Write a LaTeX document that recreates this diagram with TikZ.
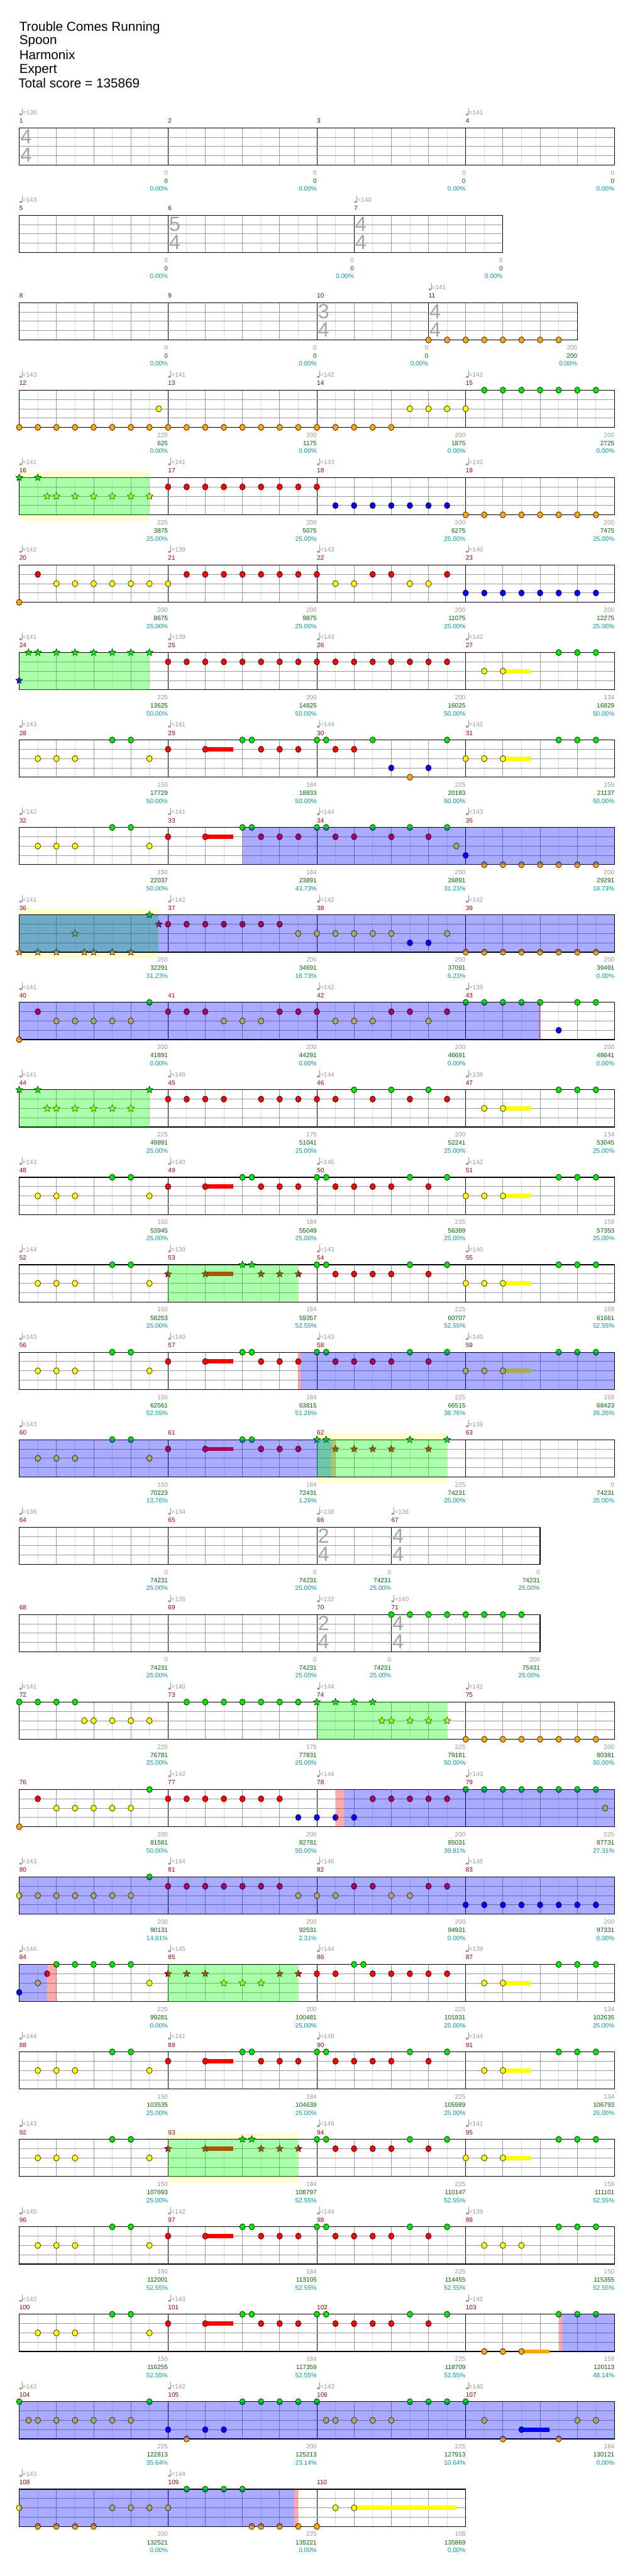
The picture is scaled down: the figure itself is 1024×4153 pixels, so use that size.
\documentclass[tikz,border=0pt]{standalone}
\usepackage{fontspec}
\setmainfont{Liberation Sans}
\usetikzlibrary{shapes.geometric}

\definecolor{gemgreen}{RGB}{0,230,0}
\definecolor{gemred}{RGB}{255,0,0}
\definecolor{gemyellow}{RGB}{255,255,0}
\definecolor{gemblue}{RGB}{0,0,255}
\definecolor{gemorange}{RGB}{255,165,0}
\definecolor{lanegray}{RGB}{153,153,153}
\definecolor{eighthgray}{RGB}{221,221,221}
\definecolor{sigrgray}{RGB}{165,165,165}
\definecolor{numred}{RGB}{153,0,0}
\definecolor{totalgreen}{RGB}{0,100,0}
\definecolor{pctteal}{RGB}{0,153,153}
\definecolor{bandyellow}{RGB}{255,255,208}

\newcounter{gemno}

\tikzstyle{gem} = [
    ellipse,
    minimum width=9pt,
    minimum height=10pt,
    inner sep=0pt,
    draw=black,
    line width=0.6pt
]
\tikzstyle{odstar} = [
    star,
    star points=5,
    star point ratio=2.2,
    minimum size=12pt,
    inner sep=0pt,
    draw=black,
    line width=0.5pt
]
\tikzstyle{ngreen} = [gem, fill=gemgreen]
\tikzstyle{nred} = [gem, fill=gemred]
\tikzstyle{nyellow} = [gem, fill=gemyellow]
\tikzstyle{nblue} = [gem, fill=gemblue]
\tikzstyle{norange} = [gem, fill=gemorange]
\tikzstyle{sgreen} = [odstar, fill=gemgreen]
\tikzstyle{sred} = [odstar, fill=gemred]
\tikzstyle{syellow} = [odstar, fill=gemyellow]
\tikzstyle{sblue} = [odstar, fill=gemblue]
\tikzstyle{sorange} = [odstar, fill=gemorange]

\tikzstyle{eighthline} = [draw=eighthgray, line width=0.8pt]
\tikzstyle{beatline} = [draw=lanegray, line width=0.8pt]
\tikzstyle{barline} = [draw=black, line width=0.8pt]
\tikzstyle{laneline} = [draw=lanegray, line width=0.9pt]
\tikzstyle{staffborder} = [draw=black, line width=1.2pt]
\tikzstyle{bluezone} = [fill=blue, fill opacity=0.333]
\tikzstyle{greenzone} = [fill={rgb,255:red,0;green,255;blue,0}, fill opacity=0.333]
\tikzstyle{pinkzone} = [fill=red, fill opacity=0.333]

\tikzstyle{small} = [inner sep=0pt, font=\fontsize{10.2}{12}\selectfont]
\tikzstyle{titletxt} = [inner sep=0pt, anchor=base west, font=\fontsize{21}{24}\selectfont]
\tikzstyle{mnum} = [small, anchor=base west, text=numred]
\tikzstyle{tempotxt} = [small, anchor=base west, text=lanegray]
\tikzstyle{scoretxt} = [small, anchor=base east, text=lanegray]
\tikzstyle{totaltxt} = [small, anchor=base east, text=totalgreen]
\tikzstyle{pcttxt} = [small, anchor=base east, text=pctteal]
\tikzstyle{sigtxt} = [inner sep=0pt, anchor=west, text=sigrgray, font=\fontsize{33}{36}\selectfont]

% tempo mark: x, bpm, measure
\newcommand{\tempomark}[3]{%
  \fill[lanegray] (#1+2.3,-21.5) ellipse (2.3 and 1.7);
  \draw[lanegray, line width=0.6pt] (#1+4.4,-21.5) -- (#1+4.4,-32);
  \node[tempotxt] (tempo#3) at (#1+5,-21) {=#2};
}
% measure: start (eighths), beats, number, tempo, score, total, percent
\newcommand{\drawmeasure}[7]{%
  \pgfmathsetmacro\mxa{#1*30}%
  \pgfmathsetmacro\mxb{#1*30+#2*60}%
  \pgfmathtruncatemacro\neig{2*#2-1}%
  \pgfmathtruncatemacro\nbeat{#2-1}%
  \foreach \k in {1,3,...,\neig} {\draw[eighthline] (\mxa+\k*30,0) -- (\mxa+\k*30,60);}
  \foreach \k in {1,...,\nbeat} {\draw[beatline] (\mxa+\k*60,0) -- (\mxa+\k*60,60);}
  \draw[barline] (\mxa,0) -- (\mxa,60);
  \node[mnum] (m#3) at (\mxa,-7.7) {#3};
  \if\relax\detokenize{#4}\relax\else\tempomark{\mxa}{#4}{#3}\fi
  \node[scoretxt] (s#3) at (\mxb,76) {#5};
  \node[totaltxt] (c#3) at (\mxb,89.3) {#6};
  \node[pcttxt] (p#3) at (\mxb,102) {#7};
}
\newcommand{\staffbg}[1]{\fill[white] (0,0) rectangle (#1*30,60);}
\newcommand{\lanes}[1]{%
  \foreach \l in {15,30,45} {\draw[laneline] (0,\l) -- (#1*30,\l);}
  \draw[staffborder] (0,0) rectangle (#1*30,60);
}
% time signature: start (eighths), top, bottom, measure
\newcommand{\tsig}[4]{%
  \node[sigtxt] (sigtop#4) at (#1*30+1.5,14.5) {#2};
  \node[sigtxt] (sigbot#4) at (#1*30+1.5,44) {#3};
}
% gems: style, lane, positions (eighths)
\newcommand{\gems}[3]{%
  \foreach \e in {#3} {\stepcounter{gemno}\node[#1] (g\arabic{gemno}) at (\e*30,#2*15) {};}
}
\newcommand{\sus}[4]{\fill[#1] (#3*30,#2*15-3.5) rectangle (#4*30,#2*15+3.5);}
\newcommand{\band}[2]{\fill[bandyellow] (#1*30,-10) rectangle (#2*30,70);}
\newcommand{\zone}[3]{\fill[#1] (#2*30,0) rectangle (#3*30,60);}

\begin{document}
\begin{tikzpicture}[x=1pt, y=-1pt]

\useasboundingbox (0,0) rectangle (1024,4153);
\fill[white] (0,0) rectangle (1024,4153);

\node[titletxt] (song) at (31,50) {Trouble Comes Running};
\node[titletxt] (artist) at (31,71.7) {Spoon};
\node[titletxt] (author) at (31,95.7) {Harmonix};
\node[titletxt] (level) at (31,118.3) {Expert};
\node[titletxt] (total) at (29.5,141.7) {Total score = 135869};

% measures 1-4
\begin{scope}[shift={(31,206)}]
\staffbg{32}
\drawmeasure{0}{4}{1}{138}{0}{0}{0.00\%}
\drawmeasure{8}{4}{2}{}{0}{0}{0.00\%}
\drawmeasure{16}{4}{3}{}{0}{0}{0.00\%}
\drawmeasure{24}{4}{4}{141}{0}{0}{0.00\%}
\lanes{32}
\tsig{0}{4}{4}{1}
\end{scope}

% measures 5-7
\begin{scope}[shift={(31,347)}]
\staffbg{26}
\drawmeasure{0}{4}{5}{143}{0}{0}{0.00\%}
\drawmeasure{8}{5}{6}{}{0}{0}{0.00\%}
\drawmeasure{18}{4}{7}{140}{0}{0}{0.00\%}
\lanes{26}
\tsig{8}{5}{4}{6}
\tsig{18}{4}{4}{7}
\end{scope}

% measures 8-11
\begin{scope}[shift={(31,488)}]
\staffbg{30}
\drawmeasure{0}{4}{8}{}{0}{0}{0.00\%}
\drawmeasure{8}{4}{9}{}{0}{0}{0.00\%}
\drawmeasure{16}{3}{10}{}{0}{0}{0.00\%}
\drawmeasure{22}{4}{11}{141}{200}{200}{0.00\%}
\lanes{30}
\tsig{16}{3}{4}{10}
\tsig{22}{4}{4}{11}
\gems{norange}{4}{22,...,29}
\end{scope}

% measures 12-15
\begin{scope}[shift={(31,629)}]
\staffbg{32}
\drawmeasure{0}{4}{12}{143}{225}{625}{0.00\%}
\drawmeasure{8}{4}{13}{141}{200}{1175}{0.00\%}
\drawmeasure{16}{4}{14}{142}{200}{1875}{0.00\%}
\drawmeasure{24}{4}{15}{142}{200}{2725}{0.00\%}
\lanes{32}
\gems{norange}{4}{0,...,20}
\gems{nyellow}{2}{7.5,21,22,23,24}
\gems{ngreen}{0}{25,...,31}
\end{scope}

% measures 16-19
\begin{scope}[shift={(31,770)}]
\band{0}{7}
\staffbg{32}
\drawmeasure{0}{4}{16}{141}{225}{3875}{25.00\%}
\drawmeasure{8}{4}{17}{141}{200}{5075}{25.00\%}
\drawmeasure{16}{4}{18}{143}{200}{6275}{25.00\%}
\drawmeasure{24}{4}{19}{142}{200}{7475}{25.00\%}
\lanes{32}
\gems{sgreen}{0}{0,1}
\gems{syellow}{2}{1.5,2,3,4,5,6,7}
\gems{nred}{1}{8,...,16}
\gems{nblue}{3}{17,...,23}
\gems{norange}{4}{24,...,31}
\zone{greenzone}{0}{7}
\end{scope}

% measures 20-23
\begin{scope}[shift={(31,911)}]
\staffbg{32}
\drawmeasure{0}{4}{20}{142}{200}{8675}{25.00\%}
\drawmeasure{8}{4}{21}{139}{200}{9875}{25.00\%}
\drawmeasure{16}{4}{22}{143}{200}{11075}{25.00\%}
\drawmeasure{24}{4}{23}{140}{200}{12275}{25.00\%}
\lanes{32}
\gems{norange}{4}{0}
\gems{nred}{1}{1,9,10,11,12,13,14,15,16,19,20,23}
\gems{nyellow}{2}{2,3,4,5,6,7,8,17,18,21,22}
\gems{nblue}{3}{24,...,31}
\end{scope}

% measures 24-27
\begin{scope}[shift={(31,1052)}]
\staffbg{32}
\drawmeasure{0}{4}{24}{141}{225}{13625}{50.00\%}
\drawmeasure{8}{4}{25}{139}{200}{14825}{50.00\%}
\drawmeasure{16}{4}{26}{143}{200}{16025}{50.00\%}
\drawmeasure{24}{4}{27}{142}{134}{16829}{50.00\%}
\lanes{32}
\gems{sgreen}{0}{0.5,1,2,3,4,5,6,7}
\gems{sblue}{3}{0}
\gems{nred}{1}{8,...,23}
\sus{gemyellow}{2}{26}{27.5}
\gems{nyellow}{2}{25,26}
\gems{ngreen}{0}{29,30,31}
\zone{greenzone}{0}{7}
\end{scope}

% measures 28-31
\begin{scope}[shift={(31,1193)}]
\staffbg{32}
\drawmeasure{0}{4}{28}{143}{150}{17729}{50.00\%}
\drawmeasure{8}{4}{29}{141}{184}{18833}{50.00\%}
\drawmeasure{16}{4}{30}{144}{225}{20183}{50.00\%}
\drawmeasure{24}{4}{31}{142}{159}{21137}{50.00\%}
\lanes{32}
\gems{ngreen}{0}{5,6,12,12.5,16,16.5,19,23,29,30,31}
\sus{gemred}{1}{10}{11.5}
\gems{nred}{1}{8,10,13,14,15,17,18}
\sus{gemyellow}{2}{26}{27.5}
\gems{nyellow}{2}{1,2,3,7,24,25,26}
\gems{nblue}{3}{20,22}
\gems{norange}{4}{21}
\end{scope}

% measures 32-35
\begin{scope}[shift={(31,1334)}]
\staffbg{32}
\drawmeasure{0}{4}{32}{142}{150}{22037}{50.00\%}
\drawmeasure{8}{4}{33}{141}{184}{23891}{43.73\%}
\drawmeasure{16}{4}{34}{144}{250}{26891}{31.23\%}
\drawmeasure{24}{4}{35}{143}{200}{29291}{18.73\%}
\lanes{32}
\gems{ngreen}{0}{5,6,12,12.5,16,16.5,19,21,23}
\sus{gemred}{1}{10}{11.5}
\gems{nred}{1}{8,10,13,14,15,17,18,20,22}
\gems{nyellow}{2}{1,2,3,7,23.5}
\gems{nblue}{3}{24}
\gems{norange}{4}{25,...,31}
\zone{bluezone}{12}{32}
\end{scope}

% measures 36-39
\begin{scope}[shift={(31,1475)}]
\band{0}{7.5}
\staffbg{32}
\drawmeasure{0}{4}{36}{141}{250}{32291}{31.23\%}
\drawmeasure{8}{4}{37}{142}{200}{34691}{18.73\%}
\drawmeasure{16}{4}{38}{142}{200}{37091}{6.23\%}
\drawmeasure{24}{4}{39}{142}{200}{39491}{0.00\%}
\lanes{32}
\gems{sgreen}{0}{7}
\gems{sred}{1}{7.5}
\gems{syellow}{2}{3}
\gems{sorange}{4}{0,1,2,3.5,4,5,6}
\gems{nred}{1}{8,...,14}
\gems{nyellow}{2}{15,16,17,18,19,20,23}
\gems{nblue}{3}{21,22}
\gems{norange}{4}{24,...,31}
\zone{greenzone}{0}{7.5}
\zone{bluezone}{0}{32}
\end{scope}

% measures 40-43
\begin{scope}[shift={(31,1616)}]
\staffbg{32}
\drawmeasure{0}{4}{40}{141}{200}{41891}{0.00\%}
\drawmeasure{8}{4}{41}{}{200}{44291}{0.00\%}
\drawmeasure{16}{4}{42}{142}{200}{46691}{0.00\%}
\drawmeasure{24}{4}{43}{139}{200}{48641}{0.00\%}
\lanes{32}
\gems{norange}{4}{0}
\gems{ngreen}{0}{7,24,25,26,27,28,30,31}
\gems{nred}{1}{1,8,9,10,14,15,16,20,21,23}
\gems{nyellow}{2}{2,3,4,5,6,11,12,13,17,18,19,22}
\gems{nblue}{3}{29}
\zone{bluezone}{0}{28}
\zone{pinkzone}{27.93}{28}
\end{scope}

% measures 44-47
\begin{scope}[shift={(31,1757)}]
\staffbg{32}
\drawmeasure{0}{4}{44}{141}{225}{49991}{25.00\%}
\drawmeasure{8}{4}{45}{140}{175}{51041}{25.00\%}
\drawmeasure{16}{4}{46}{144}{200}{52241}{25.00\%}
\drawmeasure{24}{4}{47}{138}{134}{53045}{25.00\%}
\lanes{32}
\gems{sgreen}{0}{0,1,7}
\gems{syellow}{2}{1.5,2,3,4,5,6}
\gems{nred}{1}{8,9,10,11,13,14,15,16,17,19,21,23}
\gems{ngreen}{0}{18,20,22,29,30,31}
\sus{gemyellow}{2}{26}{27.5}
\gems{nyellow}{2}{25,26}
\zone{greenzone}{0}{7}
\end{scope}

% measures 48-51
\begin{scope}[shift={(31,1898)}]
\staffbg{32}
\drawmeasure{0}{4}{48}{143}{150}{53945}{25.00\%}
\drawmeasure{8}{4}{49}{140}{184}{55049}{25.00\%}
\drawmeasure{16}{4}{50}{145}{225}{56399}{25.00\%}
\drawmeasure{24}{4}{51}{142}{159}{57353}{25.00\%}
\lanes{32}
\gems{ngreen}{0}{5,6,12,12.5,16,16.5,21,23,29,30,31}
\sus{gemred}{1}{10}{11.5}
\gems{nred}{1}{8,10,13,14,15,17,18,19,20,22}
\sus{gemyellow}{2}{26}{27.5}
\gems{nyellow}{2}{1,2,3,7,24,25,26}
\end{scope}

% measures 52-55
\begin{scope}[shift={(31,2039)}]
\staffbg{32}
\drawmeasure{0}{4}{52}{144}{150}{58253}{25.00\%}
\drawmeasure{8}{4}{53}{139}{184}{59357}{52.55\%}
\drawmeasure{16}{4}{54}{143}{225}{60707}{52.55\%}
\drawmeasure{24}{4}{55}{140}{159}{61661}{52.55\%}
\lanes{32}
\gems{ngreen}{0}{5,6,16,16.5,21,23,29,30,31}
\gems{sgreen}{0}{12,12.5}
\sus{gemred}{1}{10}{11.5}
\gems{sred}{1}{8,10,13,14,15}
\gems{nred}{1}{17,18,19,20,22}
\sus{gemyellow}{2}{26}{27.5}
\gems{nyellow}{2}{1,2,3,7,24,25,26}
\zone{greenzone}{8}{15}
\end{scope}

% measures 56-59
\begin{scope}[shift={(31,2180)}]
\staffbg{32}
\drawmeasure{0}{4}{56}{143}{150}{62561}{52.55\%}
\drawmeasure{8}{4}{57}{140}{184}{63815}{51.26\%}
\drawmeasure{16}{4}{58}{143}{225}{66515}{38.76\%}
\drawmeasure{24}{4}{59}{140}{159}{68423}{26.26\%}
\lanes{32}
\gems{ngreen}{0}{5,6,12,12.5,16,16.5,21,23,29,30,31}
\sus{gemred}{1}{10}{11.5}
\gems{nred}{1}{8,10,13,14,15,17,18,19,20,22}
\sus{gemyellow}{2}{26}{27.5}
\gems{nyellow}{2}{1,2,3,7,24,25,26}
\zone{pinkzone}{15}{15.13}
\zone{bluezone}{15.13}{32}
\end{scope}

% measures 60-63
\begin{scope}[shift={(31,2321)}]
\band{16}{23}
\staffbg{32}
\drawmeasure{0}{4}{60}{143}{150}{70223}{13.76\%}
\drawmeasure{8}{4}{61}{}{184}{72431}{1.26\%}
\drawmeasure{16}{4}{62}{}{225}{74231}{25.00\%}
\drawmeasure{24}{4}{63}{139}{0}{74231}{25.00\%}
\lanes{32}
\gems{ngreen}{0}{5,6,12,12.5}
\sus{gemred}{1}{10}{11.5}
\gems{nred}{1}{8,10,13,14,15}
\gems{nyellow}{2}{1,2,3,7}
\gems{sgreen}{0}{16,16.5,21,23}
\gems{sred}{1}{17,18,19,20,22}
\zone{bluezone}{0}{16.78}
\zone{pinkzone}{16.78}{17}
\zone{greenzone}{16}{23}
\end{scope}

% measures 64-67
\begin{scope}[shift={(31,2462)}]
\staffbg{28}
\drawmeasure{0}{4}{64}{136}{0}{74231}{25.00\%}
\drawmeasure{8}{4}{65}{134}{0}{74231}{25.00\%}
\drawmeasure{16}{2}{66}{138}{0}{74231}{25.00\%}
\drawmeasure{20}{4}{67}{136}{0}{74231}{25.00\%}
\lanes{28}
\tsig{16}{2}{4}{66}
\tsig{20}{4}{4}{67}
\end{scope}

% measures 68-71
\begin{scope}[shift={(31,2603)}]
\staffbg{28}
\drawmeasure{0}{4}{68}{}{0}{74231}{25.00\%}
\drawmeasure{8}{4}{69}{135}{0}{74231}{25.00\%}
\drawmeasure{16}{2}{70}{132}{0}{74231}{25.00\%}
\drawmeasure{20}{4}{71}{140}{200}{75431}{25.00\%}
\lanes{28}
\tsig{16}{2}{4}{70}
\tsig{20}{4}{4}{71}
\gems{ngreen}{0}{20,...,27}
\end{scope}

% measures 72-75
\begin{scope}[shift={(31,2744)}]
\staffbg{32}
\drawmeasure{0}{4}{72}{141}{225}{76781}{25.00\%}
\drawmeasure{8}{4}{73}{140}{175}{77831}{25.00\%}
\drawmeasure{16}{4}{74}{144}{225}{79181}{50.00\%}
\drawmeasure{24}{4}{75}{142}{200}{80381}{50.00\%}
\lanes{32}
\gems{ngreen}{0}{0,1,2,3,9,10,11,12,13,14,15}
\gems{nyellow}{2}{3.5,4,5,6,7}
\gems{sgreen}{0}{16,17,18,19}
\gems{syellow}{2}{19.5,20,21,22,23}
\gems{norange}{4}{24,...,31}
\zone{greenzone}{16}{23}
\end{scope}

% measures 76-79
\begin{scope}[shift={(31,2885)}]
\staffbg{32}
\drawmeasure{0}{4}{76}{}{200}{81581}{50.00\%}
\drawmeasure{8}{4}{77}{142}{200}{82781}{50.00\%}
\drawmeasure{16}{4}{78}{144}{200}{85031}{39.81\%}
\drawmeasure{24}{4}{79}{143}{225}{87731}{27.31\%}
\lanes{32}
\gems{norange}{4}{0}
\gems{nred}{1}{1,8,9,10,11,12,13,14,19,20,21,22,23}
\gems{nyellow}{2}{2,3,4,5,6,31.5}
\gems{ngreen}{0}{7,24,25,26,27,28,29,30,31}
\gems{nblue}{3}{15,16,17,18}
\zone{pinkzone}{17}{17.46}
\zone{bluezone}{17.46}{32}
\end{scope}

% measures 80-83
\begin{scope}[shift={(31,3026)}]
\staffbg{32}
\drawmeasure{0}{4}{80}{143}{200}{90131}{14.81\%}
\drawmeasure{8}{4}{81}{144}{200}{92531}{2.31\%}
\drawmeasure{16}{4}{82}{146}{200}{94931}{0.00\%}
\drawmeasure{24}{4}{83}{145}{200}{97331}{0.00\%}
\lanes{32}
\gems{nyellow}{2}{0,1,2,3,4,5,6,15,16,17,20,21}
\gems{ngreen}{0}{7}
\gems{nred}{1}{8,9,10,11,12,13,14,18,19,22,23}
\gems{nblue}{3}{24,...,31}
\zone{bluezone}{0}{32}
\end{scope}

% measures 84-87
\begin{scope}[shift={(31,3167)}]
\staffbg{32}
\drawmeasure{0}{4}{84}{146}{225}{99281}{0.00\%}
\drawmeasure{8}{4}{85}{145}{200}{100481}{25.00\%}
\drawmeasure{16}{4}{86}{144}{225}{101831}{25.00\%}
\drawmeasure{24}{4}{87}{139}{134}{102635}{25.00\%}
\lanes{32}
\gems{nblue}{3}{0}
\gems{nyellow}{2}{1,7}
\gems{nred}{1}{1.5,16,17,19,20,21,22,23}
\gems{ngreen}{0}{2,3,4,5,6,18,18.5,29,30,31}
\gems{sred}{1}{8,9,10,14,15}
\gems{syellow}{2}{11,12,13}
\sus{gemyellow}{2}{26}{27.5}
\gems{nyellow}{2}{25,26}
\zone{bluezone}{0}{1.5}
\zone{pinkzone}{1.5}{2}
\zone{greenzone}{8}{15}
\end{scope}

% measures 88-91
\begin{scope}[shift={(31,3308)}]
\staffbg{32}
\drawmeasure{0}{4}{88}{144}{150}{103535}{25.00\%}
\drawmeasure{8}{4}{89}{141}{184}{104639}{25.00\%}
\drawmeasure{16}{4}{90}{148}{225}{105989}{25.00\%}
\drawmeasure{24}{4}{91}{144}{134}{106793}{25.00\%}
\lanes{32}
\gems{ngreen}{0}{5,6,12,12.5,16,16.5,21,23,29,30,31}
\sus{gemred}{1}{10}{11.5}
\gems{nred}{1}{8,10,13,14,15,17,18,19,20,22}
\sus{gemyellow}{2}{26}{27.5}
\gems{nyellow}{2}{1,2,3,7,25,26}
\end{scope}

% measures 92-95
\begin{scope}[shift={(31,3449)}]
\band{8}{15}
\staffbg{32}
\drawmeasure{0}{4}{92}{143}{150}{107693}{25.00\%}
\drawmeasure{8}{4}{93}{}{184}{108797}{52.55\%}
\drawmeasure{16}{4}{94}{149}{225}{110147}{52.55\%}
\drawmeasure{24}{4}{95}{141}{159}{111101}{52.55\%}
\lanes{32}
\gems{ngreen}{0}{5,6,16,16.5,21,23,29,30,31}
\gems{sgreen}{0}{12,12.5}
\sus{gemred}{1}{10}{11.5}
\gems{sred}{1}{8,10,13,14,15}
\gems{nred}{1}{17,18,19,20,22}
\sus{gemyellow}{2}{26}{27.5}
\gems{nyellow}{2}{1,2,3,7,24,25,26}
\zone{greenzone}{8}{15}
\end{scope}

% measures 96-99
\begin{scope}[shift={(31,3590)}]
\staffbg{32}
\drawmeasure{0}{4}{96}{145}{150}{112001}{52.55\%}
\drawmeasure{8}{4}{97}{142}{184}{113105}{52.55\%}
\drawmeasure{16}{4}{98}{144}{225}{114455}{52.55\%}
\drawmeasure{24}{4}{99}{139}{150}{115355}{52.55\%}
\lanes{32}
\gems{ngreen}{0}{5,6,12,12.5,16,16.5,21,23,29,30,31}
\sus{gemred}{1}{10}{11.5}
\gems{nred}{1}{8,10,13,14,15,17,18,19,20,22}
\gems{nyellow}{2}{1,2,3,7,25,26,27}
\end{scope}

% measures 100-103
\begin{scope}[shift={(31,3731)}]
\staffbg{32}
\drawmeasure{0}{4}{100}{142}{150}{116255}{52.55\%}
\drawmeasure{8}{4}{101}{143}{184}{117359}{52.55\%}
\drawmeasure{16}{4}{102}{}{225}{118709}{52.55\%}
\drawmeasure{24}{4}{103}{142}{159}{120113}{48.14\%}
\lanes{32}
\gems{ngreen}{0}{5,6,12,12.5,16,16.5,21,23,29,30,31}
\sus{gemred}{1}{10}{11.5}
\gems{nred}{1}{8,10,13,14,15,17,18,19,20,22}
\gems{nyellow}{2}{1,2,3,7}
\sus{gemorange}{4}{27}{28.5}
\gems{norange}{4}{25,26,27}
\zone{pinkzone}{29}{29.17}
\zone{bluezone}{29.17}{32}
\end{scope}

% measures 104-107
\begin{scope}[shift={(31,3872)}]
\staffbg{32}
\drawmeasure{0}{4}{104}{142}{225}{122813}{35.64\%}
\drawmeasure{8}{4}{105}{142}{200}{125213}{23.14\%}
\drawmeasure{16}{4}{106}{143}{225}{127913}{10.64\%}
\drawmeasure{24}{4}{107}{140}{184}{130121}{0.00\%}
\lanes{32}
\gems{ngreen}{0}{0,7,12,13,14,15,16,21,22,23,24}
\gems{nyellow}{2}{0.5,1,2,3,4,5,6,16.5,17,18,19,20,25,30,31}
\sus{gemblue}{3}{27}{28.5}
\gems{nblue}{3}{8,10,11,27}
\gems{norange}{4}{9,26,29}
\zone{bluezone}{0}{32}
\end{scope}

% measures 108-110
\begin{scope}[shift={(31,4013)}]
\staffbg{24}
\drawmeasure{0}{4}{108}{143}{200}{132521}{0.00\%}
\drawmeasure{8}{4}{109}{144}{225}{135221}{0.00\%}
\drawmeasure{16}{4}{110}{}{108}{135869}{0.00\%}
\lanes{24}
\sus{gemyellow}{2}{18}{23.5}
\gems{nyellow}{2}{0,5,6,7,8,17,18}
\gems{norange}{4}{1,2,3,4,12.5,13,14,15,16}
\gems{ngreen}{0}{9,10,11,12}
\zone{bluezone}{0}{14.78}
\zone{pinkzone}{14.78}{15}
\end{scope}

\end{tikzpicture}
\end{document}
